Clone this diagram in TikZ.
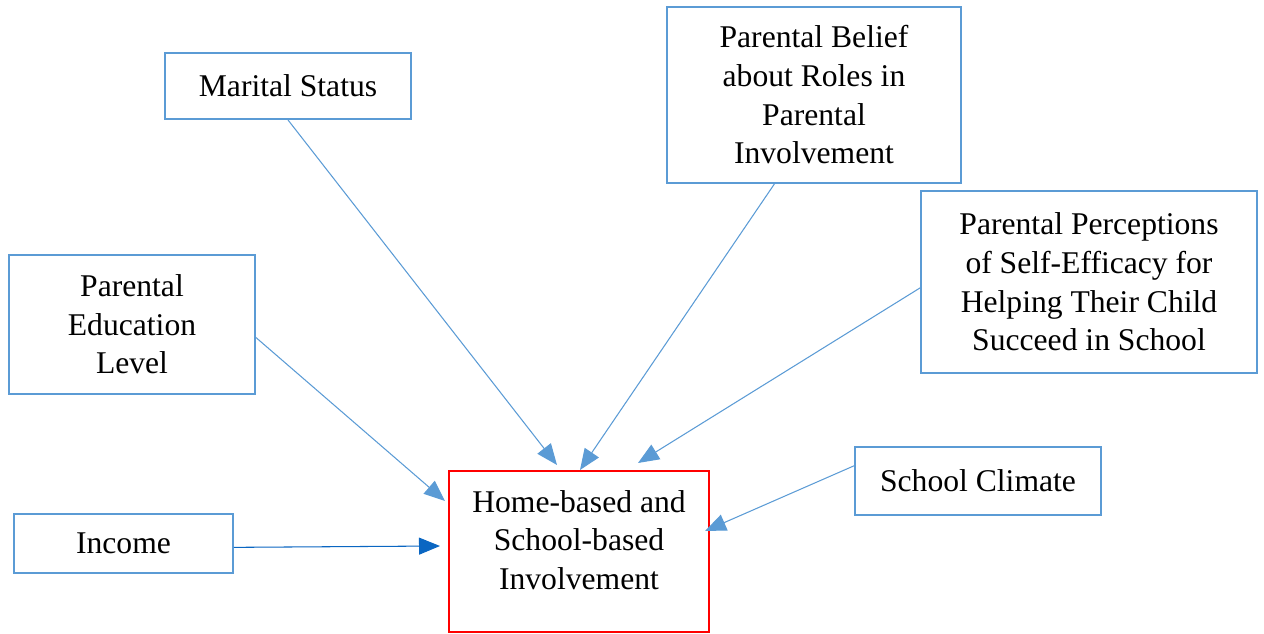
\documentclass[tikz,border=0pt]{standalone}
\usepackage{fontspec}
\setmainfont{Liberation Serif}
\usepackage{xcolor}
\usetikzlibrary{arrows.meta,calc,positioning}

\definecolor{boxblue}{RGB}{91,155,213}
\definecolor{linkblue}{RGB}{10,102,194}
\definecolor{homered}{RGB}{255,0,0}

\begin{document}
\begin{tikzpicture}[x=0.02cm,y=-0.02cm,
    factor/.style={draw=boxblue,line width=1.1pt,align=center,inner sep=0pt,
      font=\fontsize{18}{22}\selectfont},
    link/.style={draw=boxblue,line width=0.6pt,
      -{Triangle[length=0.42cm,width=0.34cm]},color=boxblue}]
  \useasboundingbox (0,0) rectangle (1264,634);
  % factors
  \node[factor,minimum width=4.92cm,minimum height=1.32cm] (marital) at (288,86) {Marital Status};
  \node[factor,minimum width=5.88cm,minimum height=3.52cm] (belief) at (814,95)
    {Parental Belief\\about Roles in\\Parental\\Involvement};
  \node[factor,minimum width=6.72cm,minimum height=3.64cm] (percept) at (1089,282)
    {Parental Perceptions\\of Self-Efficacy for\\Helping Their Child\\Succeed in School};
  \node[factor,minimum width=4.92cm,minimum height=2.78cm] (educ) at (132,324.5)
    {Parental\\Education\\Level};
  \node[factor,minimum width=4.38cm,minimum height=1.18cm] (income) at (123.5,543.5) {Income};
  \node[factor,minimum width=4.92cm,minimum height=1.36cm] (climate) at (978,481) {School Climate};
  % outcome
  \node[factor,draw=homered,minimum width=5.2cm,minimum height=3.22cm] (home) at (579,551.5) {};
  \node[align=center,font=\fontsize{18}{22}\selectfont] (hometext) at ([yshift=0.23cm]home.center)
    {Home-based and\\School-based\\Involvement};
  % arrow tips
  \coordinate (tipM) at (557,465);
  \coordinate (tipB) at (580,470);
  \coordinate (tipP) at (638,463);
  \coordinate (tipE) at (445,501);
  \coordinate (tipI) at (440,546);
  \coordinate (tipC) at (705,531);
  \draw[link] (marital.south) -- (tipM);
  \draw[link] (belief.-114) -- (tipB);
  \draw[link] (percept.182) -- (tipP);
  \draw[link] (educ.-6) -- (tipE);
  \draw[link,draw=linkblue,color=linkblue] (income.-2) -- (tipI);
  \draw[link] (climate.173) -- (tipC);
\end{tikzpicture}
\end{document}
